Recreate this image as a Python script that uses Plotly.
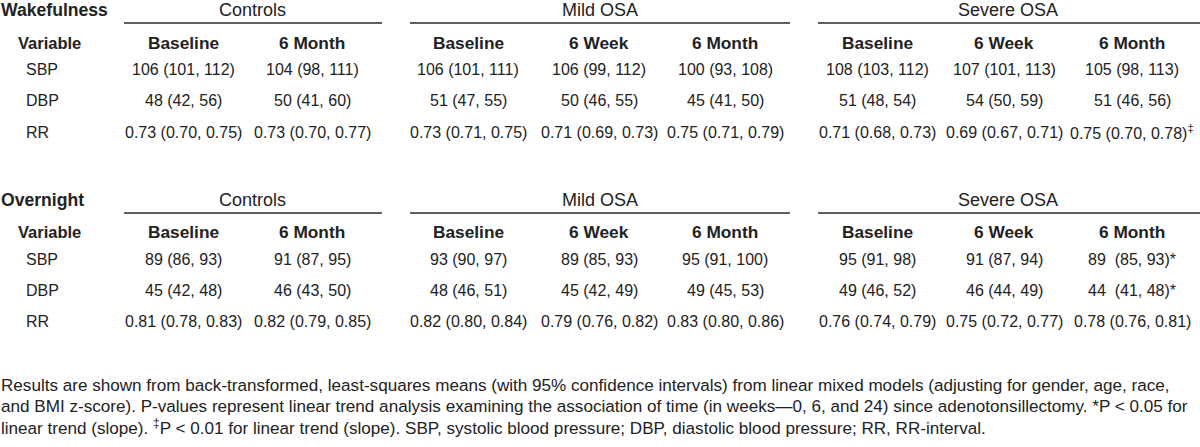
import plotly.graph_objects as go

# ---------------- data ----------------
groups = ["Controls", "Mild OSA", "Severe OSA"]
group_timepoints = [["Baseline", "6 Month"],
                    ["Baseline", "6 Week", "6 Month"],
                    ["Baseline", "6 Week", "6 Month"]]
variables = ["SBP", "DBP", "RR"]
sections = ["Wakefulness", "Overnight"]

wake_sbp = ["106 (101, 112)", "104 (98, 111)", "106 (101, 111)", "106 (99, 112)", "100 (93, 108)",
            "108 (103, 112)", "107 (101, 113)", "105 (98, 113)"]
wake_dbp = ["48 (42, 56)", "50 (41, 60)", "51 (47, 55)", "50 (46, 55)", "45 (41, 50)",
            "51 (48, 54)", "54 (50, 59)", "51 (46, 56)"]
wake_rr = ["0.73 (0.70, 0.75)", "0.73 (0.70, 0.77)", "0.73 (0.71, 0.75)", "0.71 (0.69, 0.73)",
           "0.75 (0.71, 0.79)", "0.71 (0.68, 0.73)", "0.69 (0.67, 0.71)", "0.75 (0.70, 0.78)<sup>‡</sup>"]

night_sbp = ["89 (86, 93)", "91 (87, 95)", "93 (90, 97)", "89 (85, 93)", "95 (91, 100)",
             "95 (91, 98)", "91 (87, 94)", "89\u00a0 (85, 93)*"]
night_dbp = ["45 (42, 48)", "46 (43, 50)", "48 (46, 51)", "45 (42, 49)", "49 (45, 53)",
             "49 (46, 52)", "46 (44, 49)", "44\u00a0 (41, 48)*"]
night_rr = ["0.81 (0.78, 0.83)", "0.82 (0.79, 0.85)", "0.82 (0.80, 0.84)", "0.79 (0.76, 0.82)",
            "0.83 (0.80, 0.86)", "0.76 (0.74, 0.79)", "0.75 (0.72, 0.77)", "0.78 (0.76, 0.81)"]

section_rows = [[wake_sbp, wake_dbp, wake_rr], [night_sbp, night_dbp, night_rr]]

footnote_lines = [
    "Results are shown from back-transformed, least-squares means (with 95% confidence intervals) from linear mixed models (adjusting for gender, age, race,",
    "and BMI z-score). P-values represent linear trend analysis examining the association of time (in weeks\u20140, 6, and 24) since adenotonsillectomy. *P &lt; 0.05 for",
    "linear trend (slope). <sup>\u2021</sup>P &lt; 0.01 for linear trend (slope). SBP, systolic blood pressure; DBP, diastolic blood pressure; RR, RR-interval.",
]

# ---------------- layout constants ----------------
W, H = 1200, 447
FONT = "Liberation Sans, Arial, sans-serif"
TXT = "#222222"
FS = 16
FS_SUB = 17.3
FS_VAR = 16.5
FS_GROUP = 18
FS_SECTION = 17.6
FS_FOOT = 17.1

col_x = [183, 312, 468, 599, 725, 877, 1004, 1132]
group_center = [252, 600, 1008]
group_span = [(124, 382), (410, 790), (818, 1200)]

section_y = [  # (section/group header, line, subheader, rows)
    (10, 23, 43, [69, 100, 132]),
    (200, 213, 232, [259, 290, 321]),
]
foot_y = [385, 406, 427]

annotations = []
shapes = []


def ann(x, y, text, size=FS, bold=False, xanchor="center"):
    annotations.append(dict(
        x=x, y=y, xref="x", yref="y", text=("<b>%s</b>" % text) if bold else text,
        showarrow=False, xanchor=xanchor, yanchor="middle",
        font=dict(family=FONT, size=size, color=TXT), borderpad=0,
    ))


for s, sec in enumerate(sections):
    gy, ly, sy, rys = section_y[s]
    ann(0, gy, sec, size=FS_SECTION, bold=True, xanchor="left")
    ann(17, sy, "Variable", size=FS_VAR, bold=True, xanchor="left")
    c = 0
    for g, grp in enumerate(groups):
        ann(group_center[g], gy, grp, size=FS_GROUP)
        x0, x1 = group_span[g]
        shapes.append(dict(type="line", xref="x", yref="y", x0=x0, x1=x1, y0=ly, y1=ly,
                           line=dict(color="#2a2a2a", width=1.6)))
        for tp in group_timepoints[g]:
            ann(col_x[c], sy, tp, size=FS_SUB, bold=True)
            c += 1
    for r, var in enumerate(variables):
        ann(25, rys[r], var, xanchor="left")
        for ci, val in enumerate(section_rows[s][r]):
            ann(col_x[ci], rys[r], val)

for i, line in enumerate(footnote_lines):
    ann(0, foot_y[i], line, size=FS_FOOT, xanchor="left")

fig = go.Figure()
fig.update_layout(
    width=W, height=H,
    margin=dict(l=0, r=0, t=0, b=0),
    paper_bgcolor="white", plot_bgcolor="white",
    xaxis=dict(range=[0, W], visible=False, fixedrange=True),
    yaxis=dict(range=[H, 0], visible=False, fixedrange=True),
    annotations=annotations, shapes=shapes, showlegend=False,
)
fig.write_html(
    "out.html",
    config={"displayModeBar": False},
    post_script="document.body.style.margin='0';document.body.style.overflow='hidden';",
)
